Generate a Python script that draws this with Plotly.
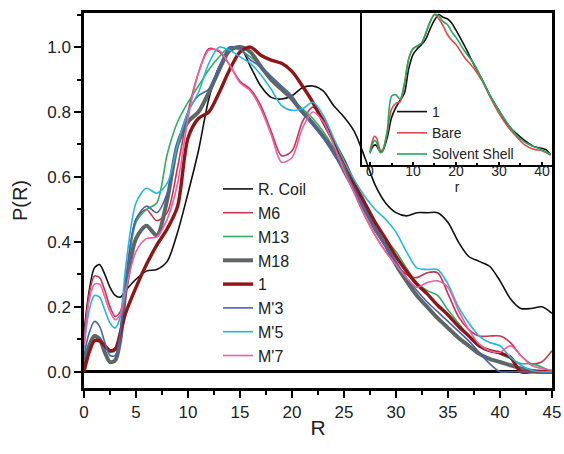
import plotly.graph_objects as go

# ---------------- main panel data ----------------
R = [0, 0.5, 1, 1.5, 2, 2.5, 3, 3.5, 4, 5, 6, 7, 8, 9, 10, 11, 12, 13, 14, 15,
     16, 17, 18, 19, 20, 21, 22, 23, 24, 25, 26, 27, 28, 29, 30, 31, 32, 33, 34,
     35, 36, 37, 38, 39, 40, 41, 42, 43, 44, 45]

r_coil = [0.12, 0.25, 0.32, 0.33, 0.30, 0.26, 0.235, 0.23, 0.25, 0.285, 0.31, 0.315, 0.34, 0.43, 0.55,
          0.68, 0.84, 0.94, 0.985, 1.0, 0.94, 0.88, 0.845, 0.84, 0.85, 0.875, 0.88, 0.865, 0.82, 0.785,
          0.74, 0.66, 0.575, 0.52, 0.49, 0.48, 0.49, 0.49, 0.49, 0.46, 0.40, 0.355, 0.34, 0.325, 0.28,
          0.225, 0.195, 0.195, 0.20, 0.18]
m6 = [0.10, 0.24, 0.295, 0.29, 0.25, 0.20, 0.17, 0.185, 0.28, 0.47, 0.50, 0.465, 0.49, 0.63, 0.80,
      0.92, 0.995, 0.985, 0.945, 0.895, 0.87, 0.82, 0.74, 0.665, 0.68, 0.77, 0.815, 0.78, 0.71, 0.63,
      0.55, 0.48, 0.42, 0.37, 0.33, 0.30, 0.29, 0.305, 0.305, 0.24, 0.17, 0.13, 0.11, 0.11, 0.11,
      0.09, 0.05, 0.025, 0.03, 0.065]
m13 = [0.03, 0.085, 0.11, 0.105, 0.08, 0.06, 0.065, 0.13, 0.27, 0.46, 0.50, 0.52, 0.67, 0.77, 0.83,
       0.88, 0.93, 0.97, 1.0, 0.99, 0.97, 0.94, 0.90, 0.87, 0.84, 0.81, 0.78, 0.74, 0.69, 0.63,
       0.57, 0.51, 0.46, 0.41, 0.37, 0.32, 0.275, 0.25, 0.235, 0.19, 0.15, 0.11, 0.08, 0.065, 0.055,
       0.04, 0.025, 0.025, 0.015, 0.0]
m18 = [0.02, 0.08, 0.11, 0.10, 0.06, 0.03, 0.035, 0.10, 0.25, 0.41, 0.45, 0.42, 0.53, 0.70, 0.77,
       0.80, 0.86, 0.93, 0.99, 1.0, 0.985, 0.94, 0.90, 0.87, 0.84, 0.80, 0.765, 0.725, 0.68, 0.62,
       0.56, 0.50, 0.44, 0.39, 0.33, 0.28, 0.235, 0.20, 0.165, 0.135, 0.105, 0.08, 0.055, 0.04, 0.03,
       0.02, 0.01, 0.003, 0.0, 0.0]
one = [0.0, 0.06, 0.095, 0.095, 0.08, 0.065, 0.07, 0.12, 0.18, 0.26, 0.33, 0.39, 0.44, 0.51, 0.72,
       0.78, 0.80, 0.86, 0.93, 0.985, 1.0, 0.975, 0.96, 0.95, 0.925, 0.88, 0.83, 0.77, 0.71, 0.65,
       0.58, 0.52, 0.46, 0.41, 0.355, 0.31, 0.27, 0.24, 0.205, 0.175, 0.14, 0.11, 0.08, 0.065, 0.058,
       0.045, 0.0, 0.0, 0.0, 0.0]
mp3 = [0.05, 0.12, 0.155, 0.14, 0.09, 0.05, 0.05, 0.12, 0.28, 0.47, 0.51, 0.49, 0.55, 0.70, 0.80,
       0.85, 0.87, 0.94, 1.0, 0.995, 0.96, 0.94, 0.91, 0.88, 0.85, 0.80, 0.76, 0.72, 0.67, 0.62,
       0.56, 0.50, 0.44, 0.39, 0.34, 0.29, 0.25, 0.215, 0.185, 0.155, 0.125, 0.095, 0.06, 0.025, 0.0,
       0.0, 0.0, 0.0, 0.0, 0.0]
mp5 = [0.07, 0.19, 0.235, 0.23, 0.19, 0.15, 0.135, 0.17, 0.32, 0.52, 0.565, 0.55, 0.58, 0.70, 0.80,
       0.86, 0.95, 1.0, 0.99, 0.97, 0.95, 0.915, 0.87, 0.82, 0.805, 0.81, 0.83, 0.79, 0.72, 0.65,
       0.59, 0.54, 0.50, 0.47, 0.43, 0.37, 0.32, 0.315, 0.315, 0.27, 0.20, 0.15, 0.11, 0.09, 0.08,
       0.045, 0.02, 0.005, 0.0, 0.0]
mp7 = [0.08, 0.22, 0.27, 0.27, 0.23, 0.185, 0.16, 0.175, 0.25, 0.37, 0.41, 0.415, 0.47, 0.58, 0.78,
       0.92, 0.99, 0.99, 0.945, 0.89, 0.865, 0.81, 0.73, 0.645, 0.66, 0.75, 0.80, 0.77, 0.70, 0.62,
       0.55, 0.48, 0.42, 0.37, 0.33, 0.29, 0.26, 0.275, 0.28, 0.26, 0.19, 0.13, 0.085, 0.065, 0.06,
       0.08, 0.05, 0.02, 0.01, 0.005]

# ---------------- inset data ----------------
r_in = [0, 0.5, 1, 1.5, 2, 2.5, 3, 4, 5, 6, 7, 8, 9, 10, 11, 12, 13, 14, 15, 16, 17, 18, 19, 20,
        22, 24, 26, 28, 30, 32, 34, 36, 38, 40, 41, 42]
in_one = [0.04, 0.07, 0.09, 0.085, 0.06, 0.04, 0.05, 0.14, 0.28, 0.35, 0.40, 0.45, 0.62, 0.72, 0.76,
          0.79, 0.83, 0.90, 0.96, 1.0, 0.98, 0.97, 0.94, 0.89, 0.78, 0.66, 0.55, 0.43, 0.33, 0.23,
          0.17, 0.12, 0.08, 0.066, 0.055, 0.02]
in_bare = [0.05, 0.11, 0.15, 0.14, 0.09, 0.05, 0.06, 0.17, 0.34, 0.38, 0.39, 0.51, 0.69, 0.76, 0.78,
           0.80, 0.87, 0.95, 1.0, 0.97, 0.92, 0.86, 0.82, 0.79, 0.70, 0.63, 0.54, 0.42, 0.31, 0.22,
           0.15, 0.09, 0.06, 0.05, 0.035, 0.02]
in_shell = [0.03, 0.09, 0.12, 0.11, 0.06, 0.035, 0.05, 0.19, 0.43, 0.44, 0.41, 0.52, 0.69, 0.76, 0.78,
            0.80, 0.87, 0.95, 1.0, 0.99, 0.95, 0.93, 0.88, 0.84, 0.745, 0.665, 0.55, 0.43, 0.33, 0.24,
            0.16, 0.11, 0.08, 0.055, 0.04, 0.025]

main_series = [
    ("R. Coil", r_coil, "#111111", 1.6),
    ("M6", m6, "#cc3350", 1.6),
    ("M13", m13, "#2fae5e", 1.6),
    ("M18", m18, "#5f6666", 4.0),
    ("1", one, "#8e1616", 3.4),
    ("M'3", mp3, "#4a62ae", 1.6),
    ("M'5", mp5, "#22b7de", 1.6),
    ("M'7", mp7, "#ec60a6", 1.6),
]
inset_series = [
    ("1", in_one, "#111111", 1.6),
    ("Bare", in_bare, "#e04a4a", 1.6),
    ("Solvent Shell", in_shell, "#22aa5e", 1.6),
]

FONT = "Liberation Sans, Arial, sans-serif"

fig = go.Figure()
for i, (name, ys, col, w) in enumerate(main_series):
    fig.add_trace(go.Scatter(
        x=R, y=ys, name=name, mode="lines",
        line=dict(color=col, width=w, shape="spline", smoothing=0.8),
        legendgroup="g%d" % i, xaxis="x", yaxis="y", legend="legend",
    ))
for i, (name, ys, col, w) in enumerate(inset_series):
    fig.add_trace(go.Scatter(
        x=r_in, y=ys, name=name, mode="lines",
        line=dict(color=col, width=w, shape="spline", smoothing=0.8),
        legendgroup="h%d" % i, xaxis="x2", yaxis="y2", legend="legend2",
    ))

W, H = 564, 454
ml, mr, mt, mb = 84, 12, 13, 66
pw = W - ml - mr
ph = H - mt - mb

def px2x(px):
    return (px - ml) / pw

def py2y(py):
    return (H - mb - py) / ph

fig.update_layout(
    width=W, height=H,
    margin=dict(l=ml, r=mr, t=mt, b=mb, pad=0, autoexpand=False),
    paper_bgcolor="white", plot_bgcolor="rgba(0,0,0,0)",
    font=dict(family=FONT, color="#222222", size=16),
    xaxis=dict(
        domain=[0, 1], range=[0, 45], dtick=5, tick0=0, automargin=False,
        showline=True, linecolor="black", linewidth=2.5, mirror=True,
        ticks="outside", ticklen=7, tickwidth=2, tickcolor="black",
        minor=dict(dtick=2.5, ticks="outside", ticklen=4, tickwidth=2, tickcolor="black"),
        showgrid=False, zeroline=False, ticklabelstandoff=0,
        tickfont=dict(size=17, family=FONT),
        title=dict(text="R", font=dict(size=21, family=FONT), standoff=0),
    ),
    yaxis=dict(
        domain=[0, 1], range=[-0.05, 1.105], dtick=0.2, tick0=0, tickformat=".1f",
        automargin=False,
        showline=True, linecolor="black", linewidth=2.5, mirror=True,
        ticks="outside", ticklen=7, tickwidth=2, tickcolor="black",
        minor=dict(dtick=0.1, ticks="outside", ticklen=4, tickwidth=2, tickcolor="black"),
        showgrid=False, zeroline=True, zerolinecolor="black", zerolinewidth=2.5,
        tickfont=dict(size=17, family=FONT),
        title=dict(text="P(R)", font=dict(size=20, family=FONT), standoff=15),
    ),
    xaxis2=dict(
        domain=[px2x(362), 1], range=[-1.86, 42.33], anchor="y2",
        dtick=10, tick0=0, automargin=False,
        showline=True, linecolor="black", linewidth=2, mirror=True,
        ticks="inside", ticklen=3, tickwidth=1.5, tickcolor="black",
        minor=dict(dtick=5, ticks="inside", ticklen=2, tickwidth=1.5, tickcolor="black"),
        showgrid=False, zeroline=False, ticklabelstandoff=-8,
        tickfont=dict(size=14, family=FONT),
        title=dict(text="r", font=dict(size=14, family=FONT), standoff=0),
    ),
    yaxis2=dict(
        domain=[py2y(165), 1], range=[-0.05, 1.01], anchor="x2", automargin=False,
        showline=True, linecolor="black", linewidth=2, mirror=True,
        showticklabels=False, ticks="", showgrid=False, zeroline=False,
    ),
    legend=dict(
        x=px2x(218), y=py2y(172), xanchor="left", yanchor="top",
        bgcolor="rgba(0,0,0,0)", borderwidth=0,
        font=dict(size=16, family=FONT, color="#222222"),
        traceorder="grouped", tracegroupgap=0,
    ),
    legend2=dict(
        x=px2x(392), y=py2y(96), xanchor="left", yanchor="top",
        bgcolor="rgba(0,0,0,0)", borderwidth=0,
        font=dict(size=14, family=FONT, color="#222222"),
        traceorder="grouped", tracegroupgap=0,
    ),
)

fig.write_html("out.html", config={"displayModeBar": False},
               post_script="document.body.style.margin='0';")
